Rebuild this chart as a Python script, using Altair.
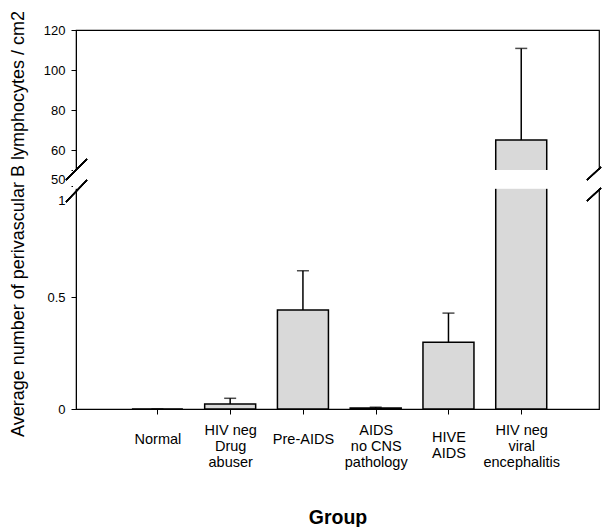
import altair as alt
import pandas as pd

# ---- data ----
groups = ["Normal", "HIV neg|Drug|abuser", "Pre-AIDS", "AIDS|no CNS|pathology",
          "HIVE|AIDS", "HIV neg|viral|encephalitis"]
positions = [1, 2, 3, 4, 5, 6]
means = [0.0, 0.022, 0.444, 0.004, 0.299, 65.0]
upper_err = [0.0, 0.048, 0.62, 0.008, 0.43, 110.8]

lower_ticks = [0, 0.5, 1]
upper_ticks = [50, 60, 80, 100, 120]

# broken axis: lower segment 0..1, upper segment 50..120 placed above a gap
B = 1.0717           # display position of value 50
S = 2.0 / 223.0      # display units per upper-segment unit
YTOP = B + (120 - 50) * S

df = pd.DataFrame({"pos": positions, "group": groups, "mean": means, "upper": upper_err})

XMIN, XMAX = -0.05, 7.0
W = 523
H = 379
FONT = "Liberation Sans"
FILL = "#d9d9d9"

label_expr = "[" + ",".join(
    "[" + ",".join("'" + p + "'" for p in g.split("|")) + "]" for g in groups
) + "][datum.value - 1]"
# first-line offset depending on how many lines a label has
pad_by_lines = {1: 25, 2: 23, 3: 16}
label_pad_expr = "[" + ",".join(str(pad_by_lines[len(g.split("|"))]) for g in groups) + "][datum.value - 1]"

ytick_vals = lower_ticks + [B + (v - 50) * S for v in upper_ticks]
ylabel_expr = (f"datum.value <= 1.001 ? format(datum.value, '~g') : "
               f"format(round(50 + (datum.value - {B}) / {S}), 'd')")


def mapexpr(f):
    return f"datum.{f} <= 1 ? datum.{f} : {B} + (datum.{f} - 50) * {S}"


xscale = alt.Scale(domain=[XMIN, XMAX], nice=False, zero=False)
yscale = alt.Scale(domain=[0, YTOP], nice=False, zero=False)

x_axis = alt.Axis(values=positions, labelExpr=label_expr, grid=False,
                  labelFont=FONT, labelFontSize=14.5, labelLineHeight=16,
                  labelBaseline="middle", labelPadding={"expr": label_pad_expr},
                  tickSize=5,
                  domainColor="black", tickColor="black", labelColor="black",
                  title="Group", titleFont=FONT, titleFontSize=19.5,
                  titleFontWeight="bold", titlePadding=40, titleColor="black",
                  labelAngle=0)
y_axis = alt.Axis(values=ytick_vals, labelExpr=ylabel_expr, grid=False,
                  labelFont=FONT, labelFontSize=13, tickSize=5, labelPadding=6,
                  domainColor="black", tickColor="black", labelColor="black",
                  labelOffset={"expr": f"abs(datum.value - {B}) < 0.001 ? 9 : (datum.value == 1 ? 15 : 0)"},
                  title="Average number of perivascular B lymphocytes / cm2",
                  titleFont=FONT, titleFontSize=18, titleFontWeight="normal",
                  titleColor="black", titleX=-49, titleY=H / 2 + 4)

base = alt.Chart(df).transform_calculate(
    ym=mapexpr("mean"), yu=mapexpr("upper"))

bars = base.mark_bar(size=51, fill=FILL, stroke="black", strokeWidth=1.5).encode(
    x=alt.X("pos:Q", scale=xscale, axis=x_axis),
    y=alt.Y("ym:Q", scale=yscale, axis=y_axis))
err = base.mark_rule(color="black", strokeWidth=1.5).encode(
    x="pos:Q", y="ym:Q", y2="yu:Q")
caps = base.mark_tick(orient="horizontal", size=12, thickness=1.5,
                      color="black").encode(x="pos:Q", y="yu:Q")

# white gap of the axis break
gap = alt.Chart(df).mark_rect(color="white").encode(
    x=alt.value(-3), x2=alt.value(W + 3), y=alt.datum(0.99), y2=alt.datum(B))

layers = [bars, err, caps, gap]
slashes = [(-10, 150, 11, 129), (-10, 172, 11, 150),
           (W - 12, 150, W + 2, 137), (W - 12, 171, W + 2, 158)]
for x1, y1, x2, y2 in slashes:
    layers.append(alt.Chart(df).mark_rule(color="black", strokeWidth=1.2).encode(
        x=alt.value(x1), x2=alt.value(x2), y=alt.value(y1), y2=alt.value(y2)))

chart = alt.layer(*layers).properties(
    width=W, height=H,
    padding={"left": 0, "top": 2, "right": 0, "bottom": 0},
    background="white",
).configure_view(stroke="black", strokeWidth=1.2)

chart.save("out.html", embed_options={"renderer": "svg", "actions": False})
